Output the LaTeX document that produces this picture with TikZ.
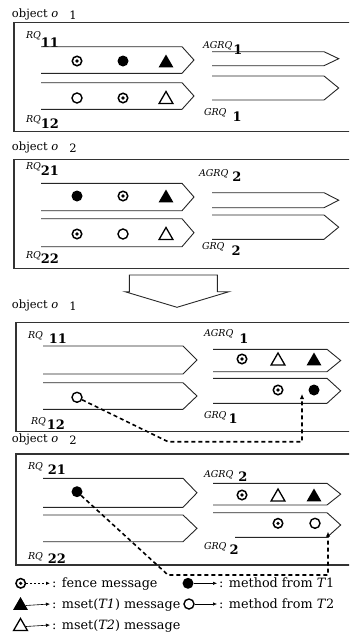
\documentclass[tikz,border=0pt]{standalone}
\usepackage{fontspec}
\setmainfont{DejaVu Serif}
\usetikzlibrary{shapes.geometric,arrows.meta}
\newcommand\qarrow[5]{\draw[qline] (#1,#4) -- (#2,#4) -- (#3,{(#4+#5)/2}) -- (#2,#5) -- (#1,#5);}
\newcommand\qlab[4]{{\fontsize{9.5}{10}\selectfont\itshape #1}\hspace{#4pt}\raisebox{-#3pt}{\fontsize{13}{14}\selectfont\bfseries #2}}
\newcommand\objlab[1]{{\fontsize{11.5}{13}\selectfont object \textit{o}\hspace{11pt}\raisebox{-2pt}{#1}}}
\begin{document}
\begin{tikzpicture}[x=1pt,y=-1pt,
  qline/.style={line width=0.9pt,draw=black!85},
  boxline/.style={line width=1.1pt,draw=black!80},
  lab/.style={anchor=base west,inner sep=0pt,outer sep=0pt},
  legtext/.style={anchor=base west,inner sep=0pt,font=\fontsize{12.8}{14}\selectfont},
  dcirc/.style={circle,draw,line width=1.5pt,minimum size=9.5pt,inner sep=0pt,fill=white,
    label={[circle,fill=black,inner sep=0pt,minimum size=3.6pt]center:{}}},
  fcirc/.style={circle,fill=black,minimum size=11pt,inner sep=0pt},
  ocirc/.style={circle,draw,line width=1.4pt,minimum size=10pt,inner sep=0pt},
  ftri/.style={regular polygon,regular polygon sides=3,fill=black,minimum size=17pt,inner sep=0pt},
  otri/.style={regular polygon,regular polygon sides=3,draw,line width=1.3pt,minimum size=16pt,inner sep=0pt},
  dconn/.style={line width=1.6pt,dash pattern=on 4pt off 3pt,-{Latex[length=5pt,width=4.5pt]}},
  fconn/.style={line width=0.9pt,dash pattern=on 2pt off 2pt,-{Latex[length=4pt,width=3.5pt]}},
  mconn/.style={line width=0.6pt,-{Latex[length=4pt,width=3.5pt]}}]
\useasboundingbox (0,0) rectangle (349,637);
\clip (0,0) rectangle (349,637);
% ================= panel 1 =================
\node[lab] (ob1) at (12,17) {\objlab{1}};
\draw[boxline] (14,22.7) rectangle (360,131.7);
\node[lab] (l11) at (26,38) {\qlab{RQ}{11}{9}{0}};
\node[lab] (l12) at (26,122.5) {\qlab{RQ}{12}{6}{0}};
\node[lab] (la1) at (203,48) {\qlab{AGRQ}{1}{6}{1}};
\node[lab] (lg1) at (204,115) {\qlab{GRQ}{1}{6}{6}};
\qarrow{41}{182}{194}{46.7}{73.3}
\qarrow{41}{182}{194}{82.7}{109.3}
\qarrow{212}{324}{338.7}{51.7}{65.7}
\qarrow{212}{324}{338.7}{76}{100}
\node[dcirc] (s11a) at (77,61) {};
\node[fcirc] (s11b) at (123,61) {};
\node[ftri] (s11c) at (166,63) {};
\node[ocirc] (s12a) at (77,98) {};
\node[dcirc] (s12b) at (123,98) {};
\node[otri] (s12c) at (166,99.5) {};
% ================= panel 2 =================
\node[lab] (ob2) at (12,150) {\objlab{2}};
\draw[boxline] (14,159.3) rectangle (360,268.3);
\node[lab] (l21) at (26,169.5) {\qlab{RQ}{21}{6}{0}};
\node[lab] (l22) at (26,258) {\qlab{RQ}{22}{5}{0}};
\node[lab] (la2) at (199,176.5) {\qlab{AGRQ}{2}{4.5}{4}};
\node[lab] (lg2) at (202,249.7) {\qlab{GRQ}{2}{6}{7}};
\qarrow{41}{182}{194}{183.3}{210.7}
\qarrow{41}{182}{194}{218.7}{246.7}
\qarrow{212}{324}{338.7}{192.7}{207.7}
\qarrow{212}{324}{338.7}{215}{239.3}
\node[fcirc] (s21a) at (77,196) {};
\node[dcirc] (s21b) at (123,196) {};
\node[ftri] (s21c) at (166,198) {};
\node[dcirc] (s22a) at (77,234) {};
\node[ocirc] (s22b) at (123,234) {};
\node[otri] (s22c) at (166,235.5) {};
% ================= big arrow =================
\draw[qline] (129.3,275) -- (217.3,275) -- (217.3,291.7) -- (229,291.7) -- (177,307.3)
  -- (125,291.7) -- (129.3,291.7) -- cycle;
% ================= panel 3 =================
\node[lab] (ob3) at (12,308.5) {\objlab{1}};
\draw[boxline] (16,322.3) rectangle (360,431.7);
\node[lab] (m11) at (28,338) {\qlab{RQ}{11}{5}{6}};
\node[lab] (m12) at (31,424.5) {\qlab{RQ}{12}{5}{1}};
\node[lab] (ma1) at (204,336.5) {\qlab{AGRQ}{1}{7}{6}};
\node[lab] (mg1) at (204,418) {\qlab{GRQ}{1}{5}{2}};
\qarrow{43}{183}{197}{346}{374}
\qarrow{43}{183}{197}{382.7}{409.3}
\qarrow{213}{327}{340.7}{349.3}{371.7}
\qarrow{213}{327}{340.7}{378.3}{403.3}
\node[ocirc] (t12a) at (77,397.3) {};
\node[dcirc] (ta1a) at (242,359) {};
\node[otri] (ta1b) at (278,361) {};
\node[ftri] (ta1c) at (314,361) {};
\node[dcirc] (tg1a) at (278,390) {};
\node[fcirc] (tg1b) at (314,390) {};
% ================= panel 4 =================
\node[lab] (ob4) at (12,442) {\objlab{2}};
\draw[boxline] (16,454) rectangle (360,565);
\node[lab] (m21) at (28,469) {\qlab{RQ}{21}{5.5}{5}};
\node[lab] (m22) at (28,559) {\qlab{RQ}{22}{4}{5}};
\node[lab] (ma2) at (204,477) {\qlab{AGRQ}{2}{4}{5}};
\node[lab] (mg2) at (204,549.7) {\qlab{GRQ}{2}{5}{3}};
\qarrow{43}{183}{197}{478.3}{507.3}
\qarrow{43}{183}{197}{515}{541.7}
\qarrow{213}{327}{340.7}{483.3}{505}
\draw[qline] (213,512.7) -- (327,512.7) -- (340.7,525) -- (327,537.3) -- (235,537.3);
\node[fcirc] (t21a) at (77,491.7) {};
\node[dcirc] (ta2a) at (242,495) {};
\node[otri] (ta2b) at (278,497) {};
\node[ftri] (ta2c) at (314,497) {};
\node[dcirc] (tg2a) at (278,523.3) {};
\node[ocirc] (tg2b) at (315,523.3) {};
% ================= dashed connectors =================
\coordinate (b1) at (168,441.7);
\coordinate (c1) at (302,441.7);
\coordinate (e1) at (302,394);
\draw[dconn] (t12a) -- (b1) -- (c1) -- (e1);
\coordinate (b2) at (168,575);
\coordinate (c2) at (328,575);
\coordinate (e2) at (328,531.7);
\draw[dconn] (t21a) -- (b2) -- (c2) -- (e2);
% ================= legend =================
\node[dcirc] (g1) at (20.7,583.3) {};
\coordinate (g1e) at (50,583.3);
\draw[fconn] (g1) -- (g1e);
\node[legtext] (g1t) at (52,587.8) {: fence message};
\node[fcirc] (g2) at (188,583.3) {};
\coordinate (g2e) at (217,583.3);
\draw[mconn] (g2) -- (g2e);
\node[legtext] (g2t) at (219,587.8) {: method from \textit{T}1};
\node[ftri] (g3) at (20.5,605.5) {};
\coordinate (g3e) at (50,604);
\draw[mconn] (g3.east) -- (g3e);
\node[legtext] (g3t) at (52,608.5) {: mset(\textit{T1}) message};
\node[ocirc] (g4) at (189,604) {};
\coordinate (g4e) at (217,604);
\draw[mconn] (g4) -- (g4e);
\node[legtext] (g4t) at (219,608.5) {: method from \textit{T}2};
\node[otri] (g5) at (20.5,626.5) {};
\coordinate (g5e) at (50,625);
\draw[mconn] (g5.east) -- (g5e);
\node[legtext] (g5t) at (52,629.5) {: mset(\textit{T2}) message};
\end{tikzpicture}
\end{document}
